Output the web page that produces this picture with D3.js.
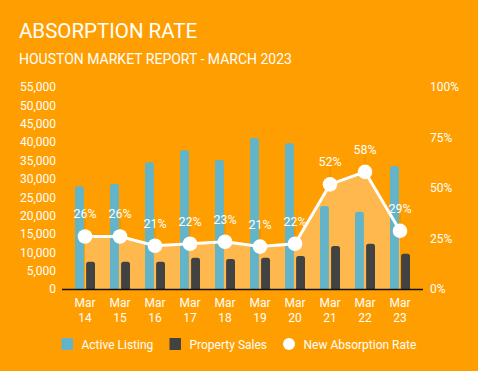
<!doctype html>
<html lang="en">
<head>
<meta charset="utf-8">
<script src="https://d3js.org/d3.v7.min.js"></script>
<style>
  body { margin: 0; background: #ff9e00; }
  svg { display: block; font-family: Roboto, "Noto Sans", sans-serif; }
</style>
</head>
<body>
<svg id="chart" width="478" height="371"></svg>
<script>
// data
var days = ["14", "15", "16", "17", "18", "19", "20", "21", "22", "23"];
var activeListing = [28000, 28600, 34500, 37800, 35100, 41100, 39700, 22600, 21000, 33500];
var propertySales = [7400, 7400, 7400, 8500, 8200, 8500, 9000, 11700, 12300, 9600];
var absorptionRate = [0.26, 0.26, 0.214, 0.224, 0.234, 0.21, 0.224, 0.518, 0.58, 0.288];
var leftTicks = d3.range(0, 55001, 5000);
var rightTicks = [0, 0.25, 0.5, 0.75, 1];

var svg = d3.select('#chart');
var W = 478, H = 371;

svg.append('rect').attr('width', W).attr('height', H).attr('fill', '#ff9e00');

// titles
svg.append('text').attr('x', 19).attr('y', 38)
  .attr('fill', '#fff').attr('font-size', 20.5).text('ABSORPTION RATE');
svg.append('text').attr('x', 19).attr('y', 63.5)
  .attr('fill', '#fff').attr('font-size', 14).text('HOUSTON MARKET REPORT - MARCH 2023');

var x = d3.scaleBand().domain(days).range([67.5, 417.5]).padding(0);
var xSub = d3.scaleBand().domain(['active', 'sales']).range([-10, 10]).paddingInner(0.2);
var y = d3.scaleLinear().domain([0, 55000]).range([289, 87]);
var yRate = d3.scaleLinear().domain([0, 1]).range([289, 87]);

function cx(d) { return x(d) + x.bandwidth() / 2; }

// axes (labels only)
var leftAxis = svg.append('g').attr('transform', 'translate(56,0)')
  .call(d3.axisLeft(y).tickValues(leftTicks).tickSize(0).tickPadding(0).tickFormat(d3.format(',')));
var rightAxis = svg.append('g').attr('transform', 'translate(430,0)')
  .call(d3.axisRight(yRate).tickValues(rightTicks).tickSize(0).tickPadding(0).tickFormat(d3.format('.0%')));
[leftAxis, rightAxis].forEach(function(a) {
  a.select('.domain').remove();
  a.selectAll('text').attr('fill', '#fff').attr('font-size', 12).attr('font-family', 'Roboto, sans-serif');
});

// area under the rate line
var rateArea = d3.area()
  .x(function(d, i) { return cx(days[i]); })
  .y0(yRate(0))
  .y1(function(d) { return yRate(d); });
svg.append('path').datum(absorptionRate)
  .attr('d', rateArea).attr('fill', '#ffb84d');

// bars with rounded tops
function topRounded(x0, y0, w, h, r) {
  r = Math.min(r, w / 2, h);
  return 'M' + x0 + ',' + (y0 + h) +
    'V' + (y0 + r) +
    'Q' + x0 + ',' + y0 + ' ' + (x0 + r) + ',' + y0 +
    'H' + (x0 + w - r) +
    'Q' + (x0 + w) + ',' + y0 + ' ' + (x0 + w) + ',' + (y0 + r) +
    'V' + (y0 + h) + 'Z';
}

svg.append('g').selectAll('path')
  .data(activeListing).enter().append('path')
  .attr('d', function(d, i) {
    return topRounded(cx(days[i]) + xSub('active'), y(d), xSub.bandwidth(), y(0) - y(d), 2.5);
  })
  .attr('fill', '#63b4c8');

svg.append('g').selectAll('path')
  .data(propertySales).enter().append('path')
  .attr('d', function(d, i) {
    return topRounded(cx(days[i]) + xSub('sales'), y(d), xSub.bandwidth(), y(0) - y(d), 2.5);
  })
  .attr('fill', '#424242');

// baseline
svg.append('line').attr('x1', 62).attr('x2', 423).attr('y1', 289.5).attr('y2', 289.5)
  .attr('stroke', '#111').attr('stroke-width', 1.3);

// x labels
var xl = svg.append('g').selectAll('text').data(days).enter().append('text')
  .attr('x', cx).attr('y', 307)
  .attr('text-anchor', 'middle').attr('fill', '#fff').attr('font-size', 12);
xl.append('tspan').attr('x', cx).text('Mar');
xl.append('tspan').attr('x', cx).attr('dy', 15).text(function(d) { return d; });

// rate line
var rateLine = d3.line()
  .x(function(d, i) { return cx(days[i]); })
  .y(function(d) { return yRate(d); });
svg.append('path').datum(absorptionRate)
  .attr('d', rateLine).attr('fill', 'none')
  .attr('stroke', '#fff').attr('stroke-width', 3);

// leader lines from labels
svg.append('g').selectAll('line').data(absorptionRate).enter().append('line')
  .attr('x1', function(d, i) { return cx(days[i]); })
  .attr('x2', function(d, i) { return cx(days[i]); })
  .attr('y1', function(d) { return yRate(d) - 17; })
  .attr('y2', function(d) { return yRate(d) - 7; })
  .attr('stroke', '#e88f00').attr('stroke-width', 1);

svg.append('g').selectAll('circle').data(absorptionRate).enter().append('circle')
  .attr('cx', function(d, i) { return cx(days[i]); })
  .attr('cy', function(d) { return yRate(d); })
  .attr('r', 7.3).attr('fill', '#fff');

svg.append('g').selectAll('text').data(absorptionRate).enter().append('text')
  .attr('x', function(d, i) { return cx(days[i]); })
  .attr('y', function(d) { return yRate(d) - 18; })
  .attr('text-anchor', 'middle').attr('fill', '#fff').attr('font-size', 12.5)
  .text(function(d) { return Math.round(d * 100) + '%'; });

// legend
var legend = svg.append('g').attr('transform', 'translate(0,344)');
legend.append('rect').attr('x', 61.5).attr('y', -6).attr('width', 11.5).attr('height', 12).attr('fill', '#63b4c8');
legend.append('text').attr('x', 81.5).attr('y', 4.5).attr('fill', '#fff').attr('font-size', 12).text('Active Listing');
legend.append('rect').attr('x', 169.5).attr('y', -6).attr('width', 11.5).attr('height', 12).attr('fill', '#424242');
legend.append('text').attr('x', 189.5).attr('y', 4.5).attr('fill', '#fff').attr('font-size', 12).text('Property Sales');
legend.append('circle').attr('cx', 289).attr('cy', 0).attr('r', 6).attr('fill', '#fff');
legend.append('text').attr('x', 303.5).attr('y', 4.5).attr('fill', '#fff').attr('font-size', 12).text('New Absorption Rate');
</script>
</body>
</html>
